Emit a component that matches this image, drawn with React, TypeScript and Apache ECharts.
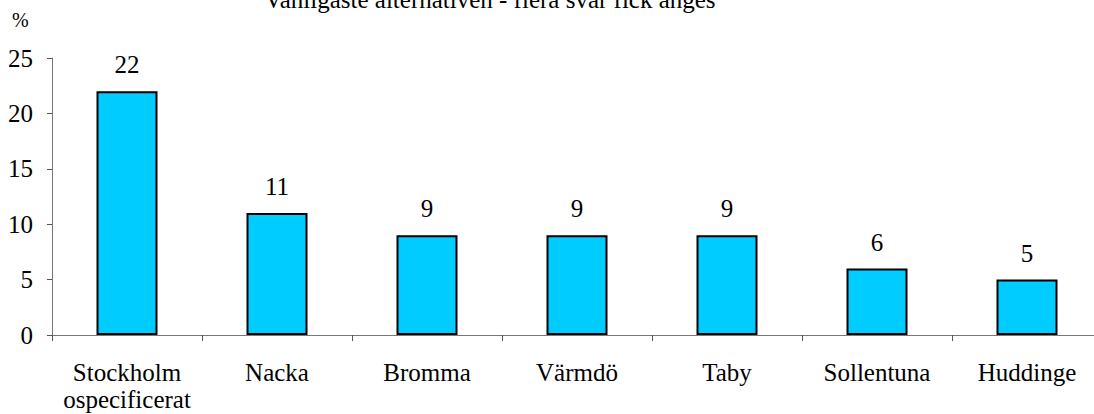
import React, { useEffect, useRef } from "react";
import * as echarts from "echarts";

const categories = ["Stockholm\nospecificerat", "Nacka", "Bromma", "Värmdö", "Taby", "Sollentuna", "Huddinge"];
const values = [22, 11, 9, 9, 9, 6, 5];
const titleText = "Vanligaste alternativen - flera svar fick anges";
const yUnit = "%";

const FONT = "Liberation Serif";

export default function App() {
  const ref = useRef<HTMLDivElement>(null);
  useEffect(() => {
    if (!ref.current) return;
    const chart = echarts.init(ref.current, null, { renderer: "svg" });
    chart.setOption({
      animation: false,
      backgroundColor: "#ffffff",
      textStyle: { fontFamily: FONT },
      title: {
        text: titleText,
        left: 490,
        textAlign: "center",
        top: -13,
        padding: 0,
        textStyle: { fontFamily: FONT, fontSize: 25, lineHeight: 25, fontWeight: "normal", color: "#000" },
      },
      graphic: [
        {
          type: "text",
          x: 12,
          y: 10,
          style: { text: yUnit, fontFamily: FONT, fontSize: 20, fill: "#000" },
        },
      ],
      grid: { left: 52, top: 58, width: 1050, height: 277, containLabel: false },
      xAxis: {
        type: "category",
        data: categories,
        axisLine: { lineStyle: { color: "#777", width: 1 } },
        axisTick: { show: true, length: 6, alignWithLabel: false, lineStyle: { color: "#555" } },
        axisLabel: {
          interval: 0,
          margin: 24,
          fontFamily: FONT,
          fontSize: 25,
          color: "#000",
          lineHeight: 27,
        },
      },
      yAxis: {
        type: "value",
        min: 0,
        max: 25,
        interval: 5,
        splitLine: { show: false },
        axisLine: { show: true, lineStyle: { color: "#777", width: 1 } },
        axisTick: { show: true, length: 5, lineStyle: { color: "#555" } },
        axisLabel: { margin: 19, fontFamily: FONT, fontSize: 25, color: "#000" },
      },
      series: [
        {
          type: "bar",
          data: values,
          barWidth: 61,
          itemStyle: { color: "#00CCFF", borderColor: "#000", borderWidth: 2 },
          label: {
            show: true,
            position: "top",
            distance: 14,
            fontFamily: FONT,
            fontSize: 25,
            color: "#000",
          },
        },
      ],
    });
    return () => chart.dispose();
  }, []);
  return (
    <div style={{ position: "fixed", left: 0, top: 0, width: 1094, height: 414, overflow: "hidden", background: "#fff" }}>
      <div ref={ref} style={{ position: "absolute", left: 0, top: 0, width: 1110, height: 414 }} />
    </div>
  );
}
